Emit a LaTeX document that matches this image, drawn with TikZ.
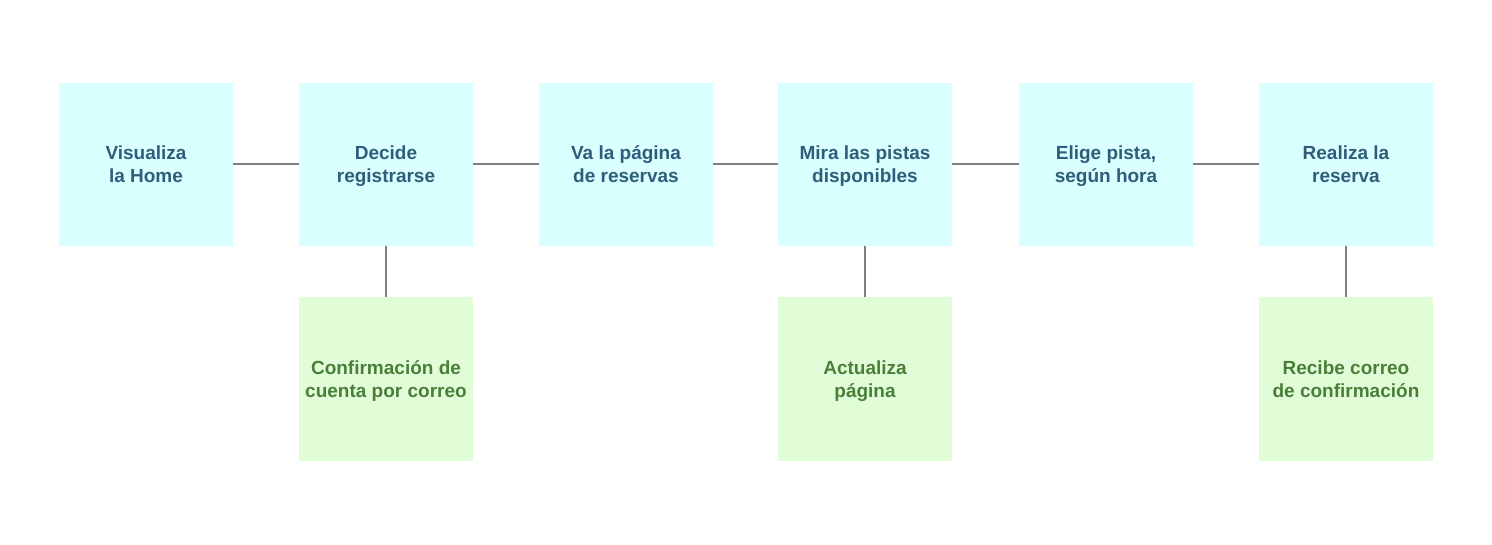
\documentclass[tikz,border=0pt]{standalone}
\usepackage{fontspec}
\setmainfont{Liberation Sans}
\usetikzlibrary{positioning}
\definecolor{stepfill}{HTML}{D9FFFF}
\definecolor{steptext}{HTML}{2F5E7C}
\definecolor{notefill}{HTML}{E1FDD8}
\definecolor{notetext}{HTML}{4A7E39}
\definecolor{linkgray}{HTML}{7F7F7F}
\newcommand{\twolines}[2]{\raisebox{0pt}[13.6pt][0pt]{#1}\\\raisebox{0pt}[\height][0pt]{#2}}
\tikzstyle{link} = [draw=linkgray, line width=2pt]
\tikzstyle{stepbox} = [rectangle, fill=stepfill, text=steptext, minimum width=174pt, minimum height=163pt,
                       align=center, font=\fontsize{19}{23}\selectfont\bfseries]
\tikzstyle{notebox} = [stepbox, fill=notefill, text=notetext]

\begin{document}
\begin{tikzpicture}[x=1pt, y=1pt]
  \useasboundingbox (0, 0) rectangle (1492, 544);
  % main row
  \node (n1) [stepbox] at (146, 379.5) {\twolines{Visualiza}{la Home}};
  \node (n2) [stepbox] at (386, 379.5) {\twolines{Decide}{registrarse}};
  \node (n3) [stepbox] at (626, 379.5) {\twolines{Va la página}{de reservas}};
  \node (n4) [stepbox] at (865, 379.5) {\twolines{Mira las pistas}{disponibles}};
  \node (n5) [stepbox] at (1106, 379.5) {\twolines{Elige pista,}{según hora}};
  \node (n6) [stepbox] at (1346, 379.5) {\twolines{Realiza la}{reserva}};
  \path [link] (n1) -- (n2);
  \path [link] (n2) -- (n3);
  \path [link] (n3) -- (n4);
  \path [link] (n4) -- (n5);
  \path [link] (n5) -- (n6);

  % feedback row
  \node (c1) [notebox] at (386, 165) {\twolines{Confirmación de}{cuenta por correo}};
  \node (c2) [notebox] at (865, 165) {\twolines{Actualiza}{página}};
  \node (c3) [notebox] at (1346, 165) {\twolines{Recibe correo}{de confirmación}};
  \path [link] (n2) -- (c1);
  \path [link] (n4) -- (c2);
  \path [link] (n6) -- (c3);
\end{tikzpicture}
\end{document}
